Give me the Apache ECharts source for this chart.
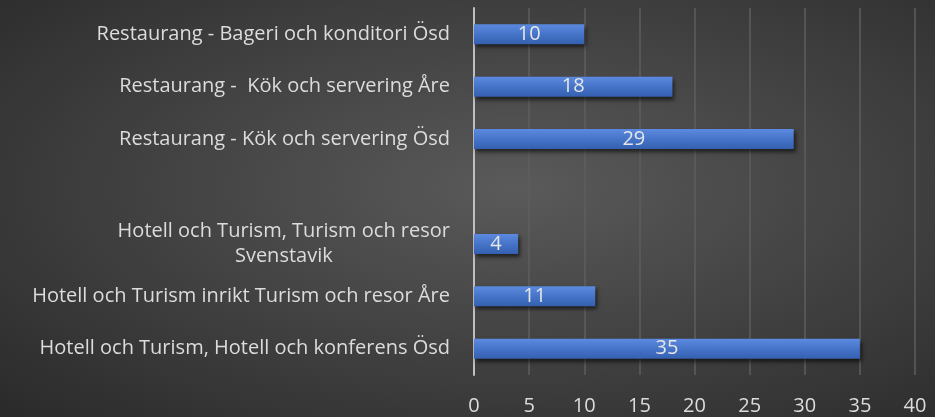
<!DOCTYPE html>
<html>
<head>
    <meta charset="utf-8">
    <script src="https://cdn.jsdelivr.net/npm/echarts@6/dist/echarts.min.js"></script>
    <style>
        html, body { margin: 0; padding: 0; }
        #chart {
            width: 935px;
            height: 417px;
            background: radial-gradient(ellipse at 55% 45%, #5a5a5a 0%, #444 45%, #2a2a2a 100%);
        }
    </style>
</head>
<body>
    <div id="chart"></div>
    <script>
        // bottom to top, as on the chart
        var categories = [
            'Hotell och Turism, Hotell och konferens Ösd',
            'Hotell och Turism inrikt Turism och resor Åre',
            'Hotell och Turism, Turism och resor\nSvenstavik',
            '',
            'Restaurang - Kök och servering Ösd',
            'Restaurang -  Kök och servering Åre',
            'Restaurang - Bageri och konditori Ösd'
        ];
        var values = [35, 11, 4, null, 29, 18, 10];
        var xTicks = [0, 5, 10, 15, 20, 25, 30, 35, 40];

        var font = 'Open Sans';
        var fontSize = 20;

        // two-line labels are centred line by line, block still ends at the axis
        var ctx = document.createElement('canvas').getContext('2d');
        ctx.font = fontSize + 'px "' + font + '"';
        var yData = categories.map(function (c) {
            if (c.indexOf('\n') < 0) return c;
            var w = Math.max.apply(null, c.split('\n').map(function (s) {
                return ctx.measureText(s).width;
            }));
            return {
                value: c,
                textStyle: { align: 'center', padding: [0, w, 0, 0] }
            };
        });

        var chart = echarts.init(document.getElementById('chart'));

        chart.setOption({
            backgroundColor: 'transparent',
            grid: {
                left: 474,
                right: 20,
                top: 8,
                bottom: 42
            },
            xAxis: {
                type: 'value',
                min: xTicks[0],
                max: xTicks[xTicks.length - 1],
                interval: 5,
                axisLine: { show: false },
                axisTick: { show: false },
                axisLabel: {
                    color: '#dcdcdc',
                    fontFamily: font,
                    fontSize: fontSize,
                    margin: 21
                },
                splitLine: {
                    lineStyle: { color: '#5e5e5e', width: 1.5 }
                }
            },
            yAxis: {
                type: 'category',
                data: yData,
                axisLine: { lineStyle: { color: '#bfbfbf', width: 2 } },
                axisTick: { show: false },
                axisLabel: {
                    color: '#dcdcdc',
                    fontFamily: font,
                    fontSize: fontSize,
                    margin: 24,
                    align: 'right',
                    lineHeight: 25
                }
            },
            series: [{
                type: 'bar',
                data: values,
                barWidth: 20,
                itemStyle: {
                    color: new echarts.graphic.LinearGradient(0, 0, 0, 1, [
                        { offset: 0, color: '#5b8ae0' },
                        { offset: 0.5, color: '#4574c8' },
                        { offset: 1, color: '#3560b0' }
                    ]),
                    shadowColor: 'rgba(0,0,0,0.6)',
                    shadowBlur: 4,
                    shadowOffsetY: 3,
                    shadowOffsetX: 2
                },
                label: {
                    show: true,
                    position: 'inside',
                    color: '#e6e6e6',
                    fontFamily: font,
                    fontSize: fontSize
                }
            }]
        });
    </script>
</body>
</html>
